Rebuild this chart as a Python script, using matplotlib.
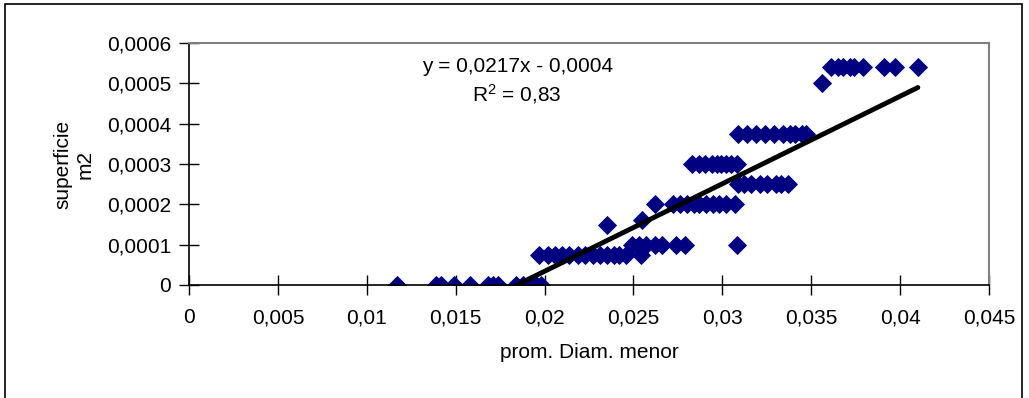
import matplotlib.pyplot as plt
from matplotlib.patches import Rectangle
import numpy as np

plt.rcParams['font.family'] = ['Liberation Sans', 'DejaVu Sans']
plt.rcParams['mathtext.default'] = 'regular'

# diámetro menor promedio (m) y superficie (m2)
diam = [
    # superficie 0
    0.0117, 0.0139, 0.0142, 0.0149, 0.0158, 0.0168, 0.0171, 0.0174,
    0.0184, 0.0188, 0.0191, 0.0195, 0.0198,
    # 0.000075
    0.0197, 0.0202, 0.0206, 0.0210, 0.0214, 0.0219, 0.0223, 0.0227,
    0.0231, 0.0235, 0.0239, 0.0242, 0.0246, 0.0254,
    # 0.0001
    0.0249, 0.0253, 0.0257, 0.0262, 0.0266, 0.0274, 0.0279, 0.0308,
    # aislados
    0.0235, 0.0255, 0.0262,
    # 0.0002
    0.0272, 0.0276, 0.0280, 0.0284, 0.0287, 0.0291, 0.0295, 0.0298,
    0.0302, 0.0307,
    # 0.00025
    0.0309, 0.0312, 0.0316, 0.0321, 0.0325, 0.0330, 0.0333, 0.0337,
    # 0.0003
    0.0283, 0.0287, 0.0290, 0.0294, 0.0297, 0.0299, 0.0302, 0.0305, 0.0308,
    # 0.000375
    0.0309, 0.0314, 0.0319, 0.0324, 0.0329, 0.0334, 0.0338, 0.0341,
    0.0345, 0.0347,
    # 0.0005 / 0.00054
    0.0356, 0.0361, 0.0365, 0.0368, 0.0372, 0.0374, 0.0379, 0.0391,
    0.0397, 0.0410,
]
superficie = (
    [0.0] * 13
    + [0.000075] * 14
    + [0.0001] * 8
    + [0.00015, 0.00016, 0.0002]
    + [0.0002] * 10
    + [0.00025] * 8
    + [0.0003] * 9
    + [0.000375] * 10
    + [0.0005] + [0.00054] * 9
)

# línea de tendencia mostrada en el gráfico
pendiente = 0.0217
ordenada = -0.0004
r2 = 0.83

x_ticks = [0, 0.005, 0.01, 0.015, 0.02, 0.025, 0.03, 0.035, 0.04, 0.045]
y_ticks = [0, 0.0001, 0.0002, 0.0003, 0.0004, 0.0005, 0.0006]


def coma(v, dec):
    if v == 0:
        return '0'
    return f'{v:.{dec}f}'.rstrip('0').replace('.', ',')


fig = plt.figure(figsize=(10.29, 3.98), dpi=100)
ax = fig.add_axes([189 / 1029, 1 - 285 / 398, 800 / 1029, 242 / 398])

# marco exterior del gráfico
fig.patches.append(Rectangle((5 / 1029, -0.05), 1017 / 1029, 1 - 4 / 398 + 0.05,
                             transform=fig.transFigure, fill=False,
                             edgecolor='black', linewidth=1.2))

ax.plot(diam, superficie, linestyle='none', marker='D', markersize=8.8,
        color='#000080', markeredgewidth=0.6, zorder=2)

xs = np.array([min(diam), max(diam)])
ax.plot(xs, pendiente * xs + ordenada, color='black', linewidth=3.5,
        solid_capstyle='round', zorder=3)

ax.set_xlim(0, 0.045)
ax.set_ylim(0, 0.0006)
ax.set_xticks(x_ticks)
ax.set_yticks(y_ticks)
ax.set_xticklabels([coma(v, 3) for v in x_ticks])
ax.set_yticklabels([coma(v, 4) for v in y_ticks])
ax.tick_params(direction='inout', length=14, width=1, labelsize=15,
               colors='black', pad=6)
ax.tick_params(axis='x', pad=9.6)

for s in ['top', 'right']:
    ax.spines[s].set_color('#808080')
    ax.spines[s].set_linewidth(1.5)
for s in ['left', 'bottom']:
    ax.spines[s].set_color('black')
    ax.spines[s].set_linewidth(1.2)

ax.set_xlabel('prom. Diam. menor', fontsize=15)
ax.xaxis.set_label_coords(0.5, -0.24)
ax.set_ylabel('superficie\nm2', fontsize=15, labelpad=9)

ax.text(0.01846, 0.000542, f'y = {coma(pendiente, 4)}x - {coma(-ordenada, 4)}',
        ha='center', va='center', fontsize=15)
ax.text(0.01846, 0.000473, f'R$^2$ = {coma(r2, 2)}', ha='center', va='center',
        fontsize=15)

fig.savefig('out.png', dpi=100)
